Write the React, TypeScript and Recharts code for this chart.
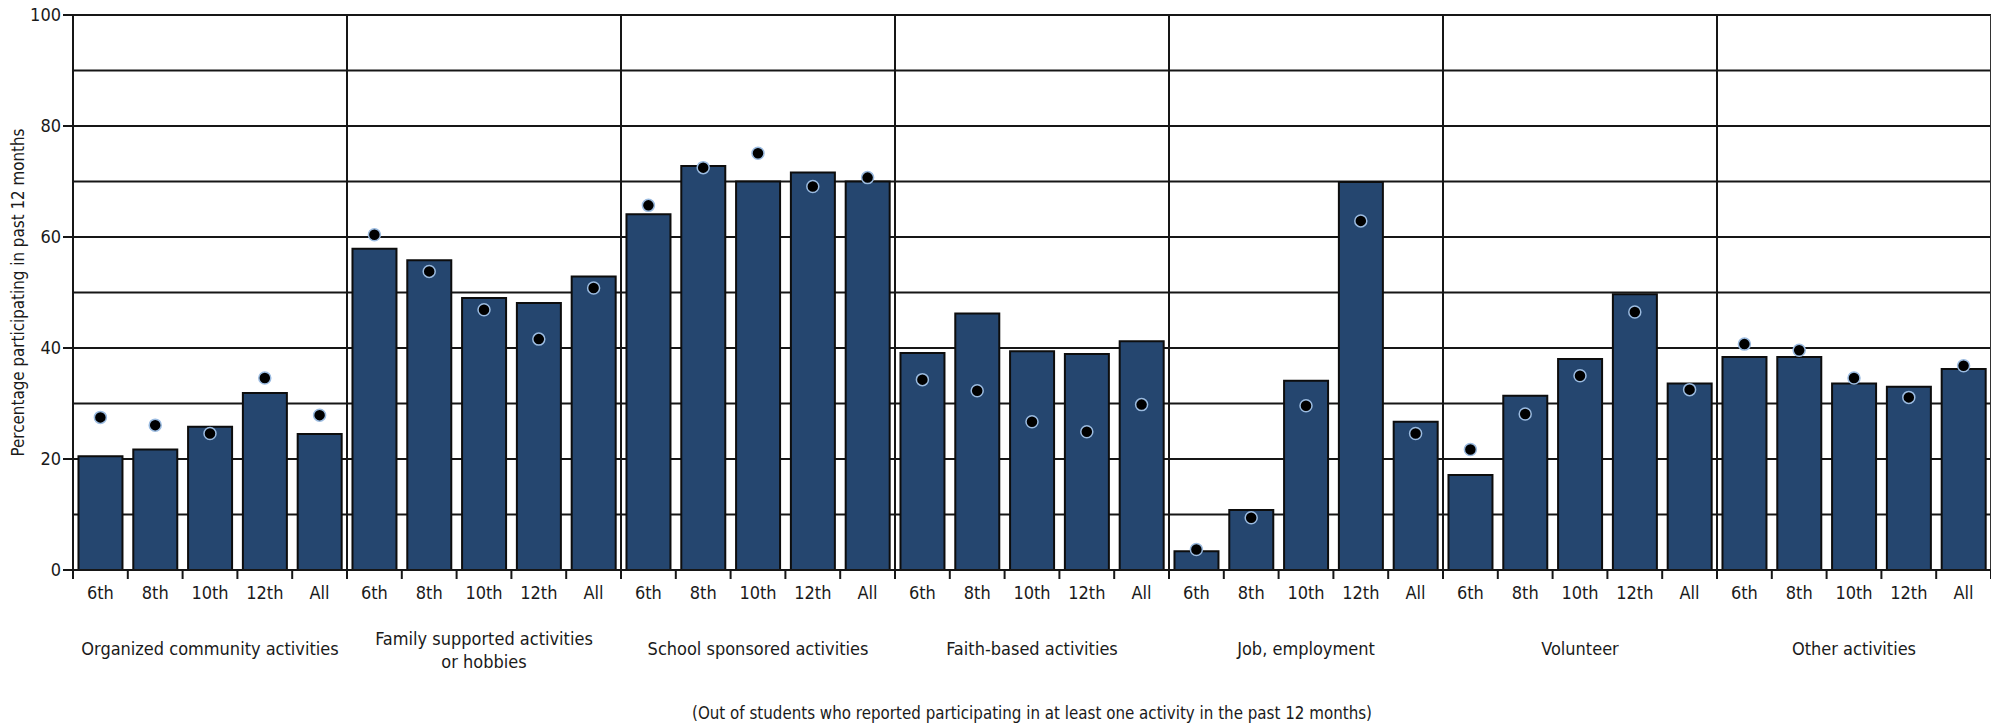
import React from 'react';
import {
  ComposedChart,
  Bar,
  Line,
  XAxis,
  YAxis,
  CartesianGrid,
  ReferenceLine,
} from 'recharts';

// ---- data ----
const groupNames: string[] = [
  'Organized community activities',
  'Family supported activities|or hobbies',
  'School sponsored activities',
  'Faith-based activities',
  'Job, employment',
  'Volunteer',
  'Other activities',
];

const grades: string[] = ['6th', '8th', '10th', '12th', 'All'];

const organizedBars = [20.5, 21.7, 25.8, 31.9, 24.5];
const familyBars = [57.9, 55.8, 49.0, 48.1, 52.9];
const schoolBars = [64.1, 72.8, 70.0, 71.6, 70.0];
const faithBars = [39.1, 46.2, 39.4, 38.9, 41.2];
const jobBars = [3.4, 10.8, 34.1, 69.9, 26.7];
const volunteerBars = [17.1, 31.4, 38.0, 49.7, 33.6];
const otherBars = [38.4, 38.4, 33.6, 33.0, 36.2];

const organizedDots = [27.5, 26.1, 24.6, 34.6, 27.9];
const familyDots = [60.4, 53.8, 46.9, 41.6, 50.8];
const schoolDots = [65.7, 72.5, 75.1, 69.1, 70.7];
const faithDots = [34.3, 32.3, 26.7, 24.9, 29.8];
const jobDots = [3.7, 9.4, 29.6, 62.9, 24.6];
const volunteerDots = [21.7, 28.1, 35.0, 46.5, 32.5];
const otherDots = [40.7, 39.6, 34.6, 31.1, 36.8];

const yTicks = [0, 10, 20, 30, 40, 50, 60, 70, 80, 90, 100];

const yTitle = 'Percentage participating in past 12 months';
const footerText =
  '(Out of students who reported participating in at least one activity in the past 12 months)';

const barSeries = [organizedBars, familyBars, schoolBars, faithBars, jobBars, volunteerBars, otherBars];
const dotSeries = [organizedDots, familyDots, schoolDots, faithDots, jobDots, volunteerDots, otherDots];

const data = groupNames.flatMap((g, gi) =>
  grades.map((gr, i) => ({
    key: `${gi}|${gr}`,
    bar: barSeries[gi][i],
    dot: dotSeries[gi][i],
  }))
);

const groupStartKeys = groupNames.map((_, gi) => `${gi}|${grades[0]}`).slice(1);
const lastKey = `${groupNames.length - 1}|${grades[grades.length - 1]}`;
const groupCenterKeys = groupNames.map((_, gi) => `${gi}|${grades[2]}`);

// ---- styles ----
const FONT = '"DejaVu Sans Condensed", "Liberation Sans Narrow", "Arial Narrow", sans-serif';
const TEXT = '#1a1a1a';
const BAR_FILL = '#25466f';
const LINE = '#161616';

const YTick = (props: any) => {
  const { x, y, payload } = props;
  const v = Number(payload.value);
  if (v % 20 !== 0) return <g />;
  return (
    <g>
      <line x1={x - 10} x2={x} y1={y} y2={y} stroke={LINE} strokeWidth={2} />
      <text
        x={x - 12}
        y={y}
        dy="0.35em"
        textAnchor="end"
        fontFamily={FONT}
        fontSize={18}
        fill={TEXT}
      >
        {v}
      </text>
    </g>
  );
};

const CatTick = (props: any) => {
  const { x, y, payload } = props;
  const half = typeof payload?.offset === 'number' && payload.offset > 0 ? payload.offset : 27.4;
  const grade = String(payload.value).split('|')[1];
  return (
    <g>
      <line x1={x - half} x2={x - half} y1={y} y2={y + 9} stroke={LINE} strokeWidth={2} />
      {payload.value === lastKey && (
        <line x1={x + half} x2={x + half} y1={y} y2={y + 9} stroke={LINE} strokeWidth={2} />
      )}
      <text x={x} y={y + 29} textAnchor="middle" fontFamily={FONT} fontSize={18} fill={TEXT}>
        {grade}
      </text>
    </g>
  );
};

const GroupTick = (props: any) => {
  const { x, y, payload } = props;
  const gi = Number(String(payload.value).split('|')[0]);
  const lines = (groupNames[gi] || '').split('|');
  if (lines.length === 1) {
    return (
      <text x={x} y={y + 45} textAnchor="middle" fontFamily={FONT} fontSize={18} fill={TEXT}>
        {lines[0]}
      </text>
    );
  }
  return (
    <text textAnchor="middle" fontFamily={FONT} fontSize={18} fill={TEXT}>
      <tspan x={x} y={y + 35}>{lines[0]}</tspan>
      <tspan x={x} y={y + 58}>{lines[1]}</tspan>
    </text>
  );
};

const FooterLabel = (props: any) => {
  const vb = props.viewBox || {};
  return (
    <text
      x={vb.x + vb.width / 2}
      y={vb.y + 109}
      textAnchor="middle"
      fontFamily={FONT}
      fontSize={18}
      fill={TEXT}
      textLength={680}
      lengthAdjust="spacingAndGlyphs"
    >
      {footerText}
    </text>
  );
};

const YTitle = (props: any) => {
  const vb = props.viewBox || {};
  const cx = 18;
  const cy = vb.y + vb.height / 2;
  return (
    <text
      x={cx}
      y={cy}
      transform={`rotate(-90 ${cx} ${cy})`}
      textAnchor="middle"
      dy="0.35em"
      fontFamily={FONT}
      fontSize={18}
      fill={TEXT}
      textLength={328}
      lengthAdjust="spacingAndGlyphs"
    >
      {yTitle}
    </text>
  );
};

export default function App() {
  return (
    <div style={{ width: 1999, height: 724, marginTop: -8, marginLeft: -8, background: '#fff' }}>
      <ComposedChart
        width={1999}
        height={724}
        data={data}
        margin={{ top: 15, right: 8, left: 0, bottom: 0 }}
      >
        <CartesianGrid
          vertical={false}
          stroke={LINE}
          strokeWidth={2}
          horizontalValues={yTicks}
        />
        <XAxis
          xAxisId="cat"
          dataKey="key"
          type="category"
          interval={0}
          height={40}
          tickLine={false}
          tickSize={0}
          tickMargin={0}
          axisLine={{ stroke: LINE, strokeWidth: 2 }}
          tick={<CatTick />}
        />
        <XAxis
          xAxisId="grp"
          dataKey="key"
          type="category"
          ticks={groupCenterKeys}
          interval={0}
          height={114}
          axisLine={false}
          tickLine={false}
          tickSize={0}
          tickMargin={0}
          tick={<GroupTick />}
          label={<FooterLabel />}
        />
        <YAxis
          type="number"
          domain={[0, 100]}
          ticks={yTicks}
          interval={0}
          width={73}
          tickLine={false}
          tickSize={0}
          tickMargin={0}
          axisLine={{ stroke: LINE, strokeWidth: 2 }}
          tick={<YTick />}
          label={<YTitle />}
        />
        {groupStartKeys.map((k) => (
          <ReferenceLine
            key={k}
            xAxisId="cat"
            x={k}
            position="start"
            stroke={LINE}
            strokeWidth={2}
          />
        ))}
        <ReferenceLine xAxisId="cat" x={lastKey} position="end" stroke="#333" strokeWidth={2} />
        <Bar
          xAxisId="cat"
          dataKey="bar"
          fill={BAR_FILL}
          stroke="#0d0d0d"
          strokeWidth={2}
          barCategoryGap="9%"
          isAnimationActive={false}
        />
        <Line
          xAxisId="cat"
          dataKey="dot"
          stroke="none"
          strokeWidth={0}
          dot={{ r: 6, fill: '#000', stroke: '#9bbbe0', strokeWidth: 1.5 }}
          activeDot={false}
          isAnimationActive={false}
        />
      </ComposedChart>
    </div>
  );
}
